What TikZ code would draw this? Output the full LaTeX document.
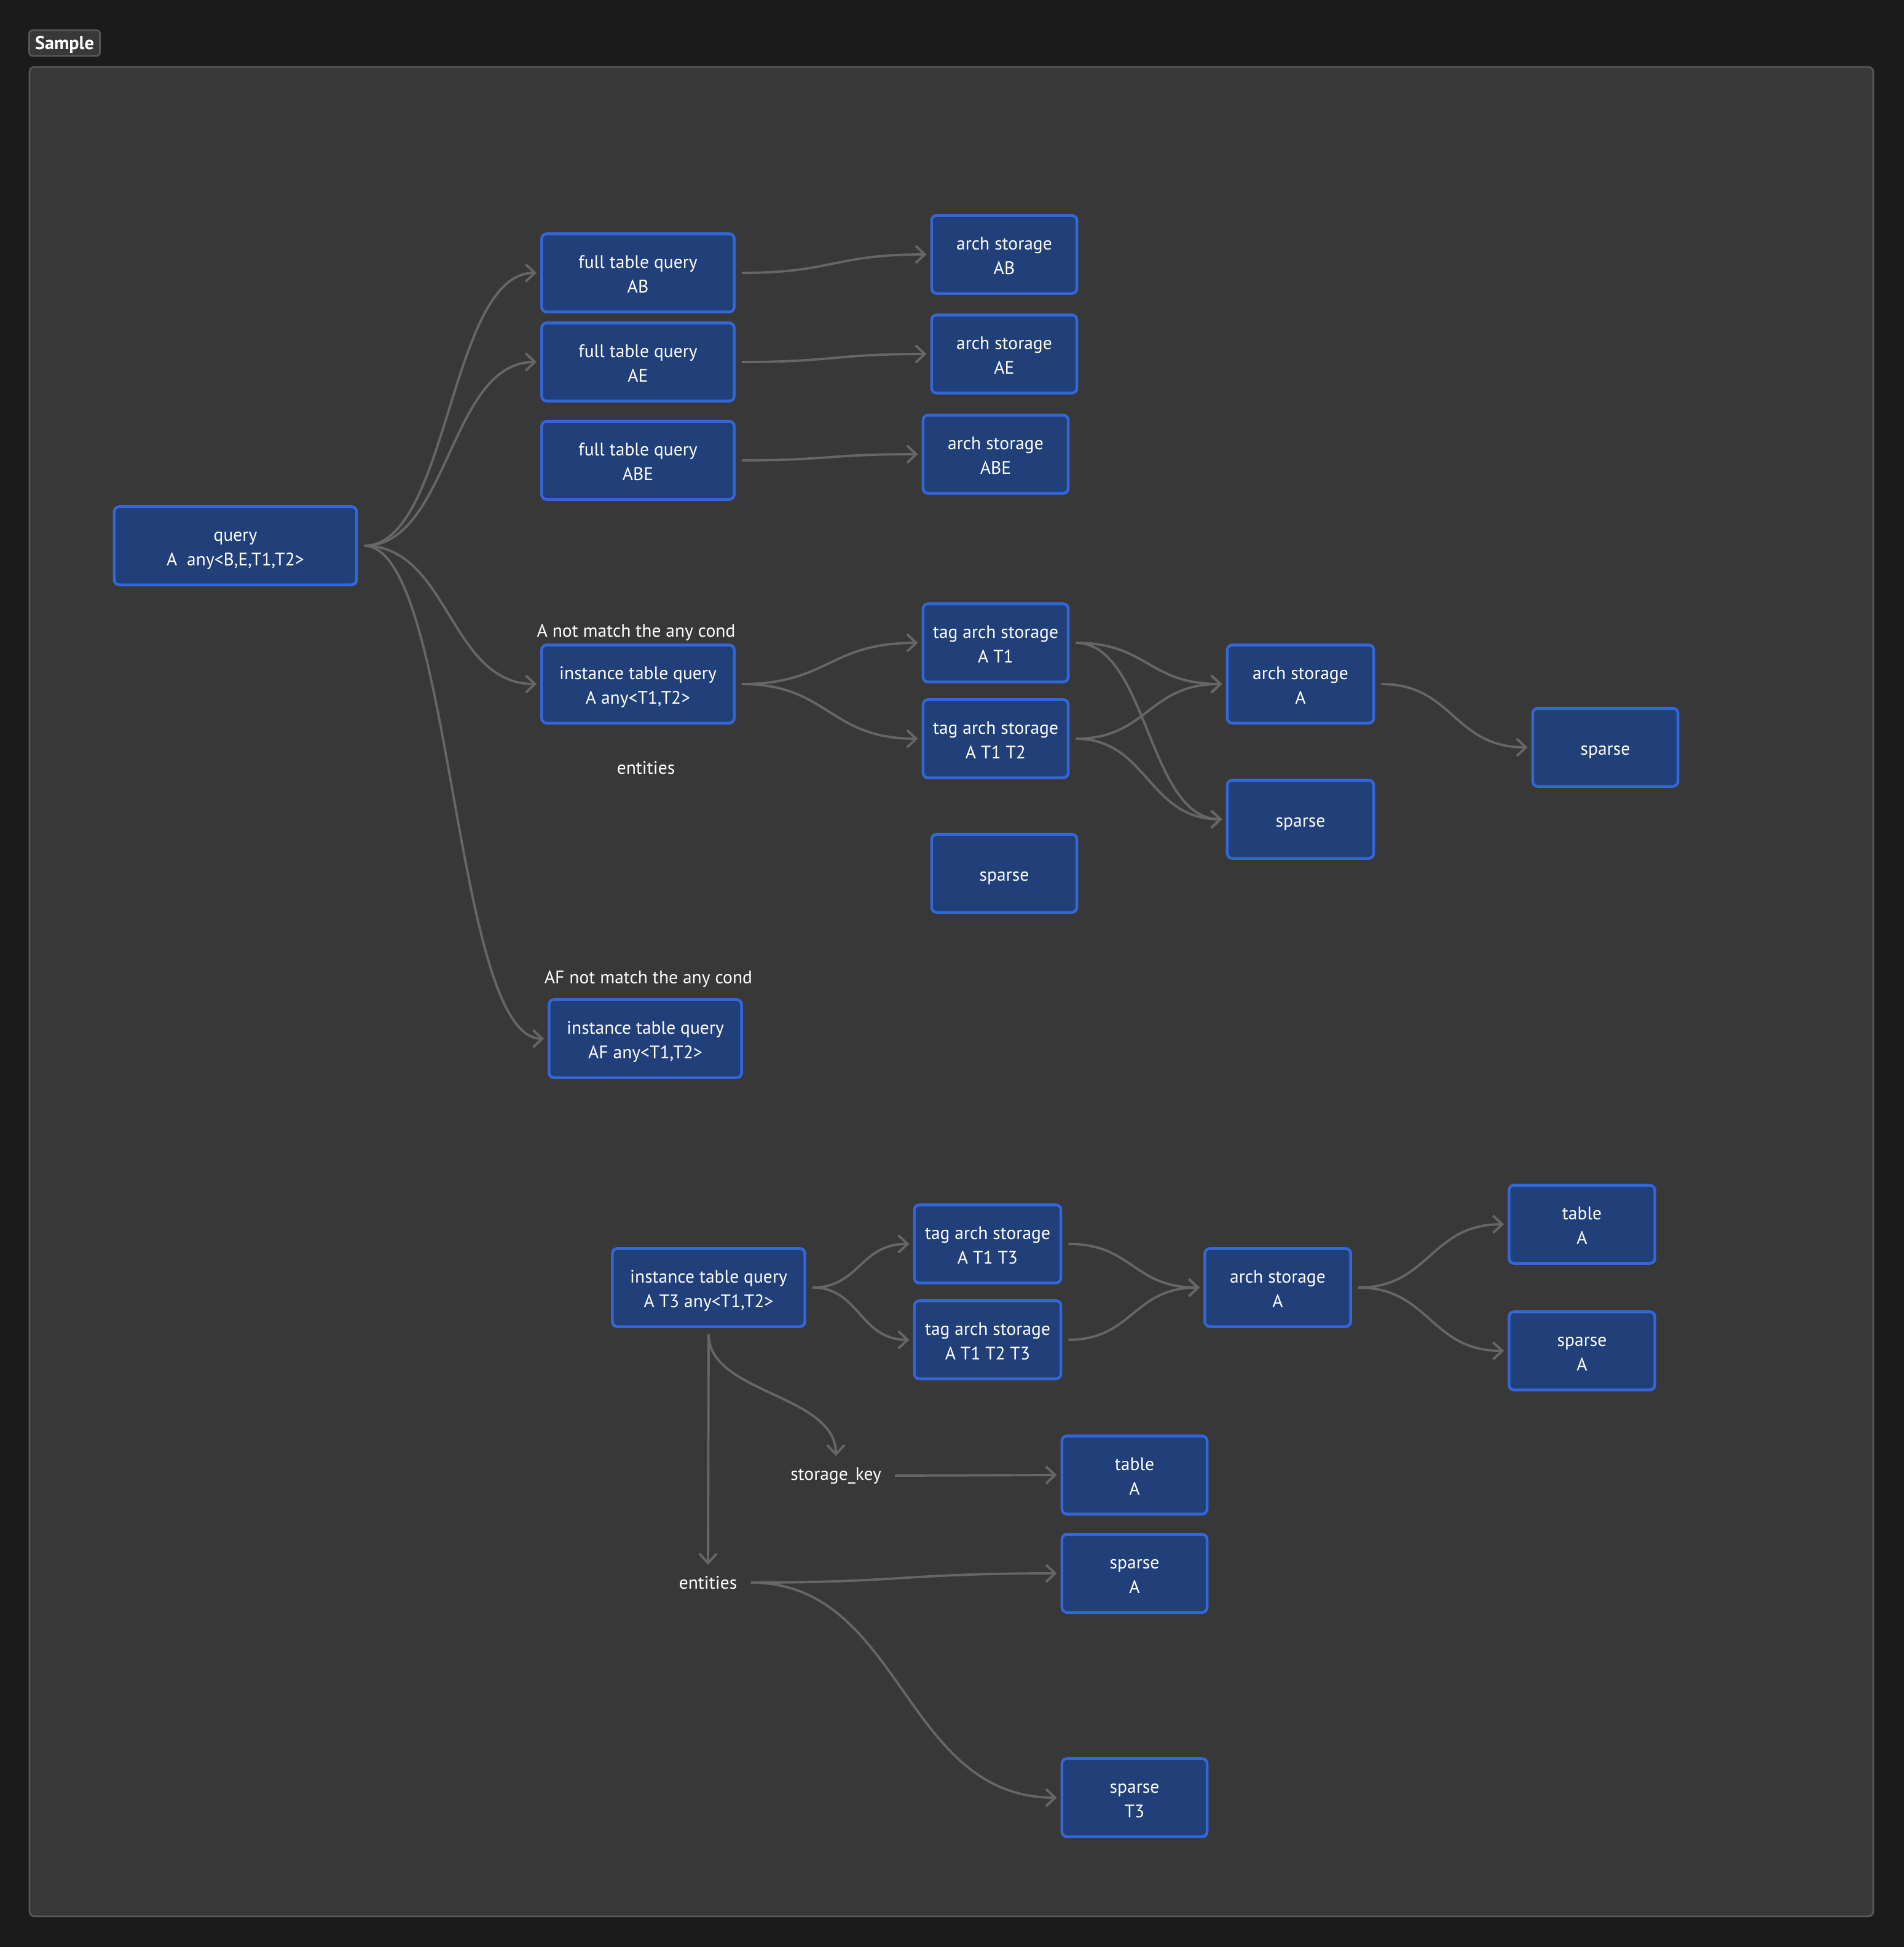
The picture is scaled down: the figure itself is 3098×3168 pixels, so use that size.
\documentclass[tikz,border=0pt]{standalone}
\usepackage{fontspec}
\setmainfont{PT Sans}
\usetikzlibrary{arrows.meta,calc}

\definecolor{outerbg}{HTML}{1B1B1B}
\definecolor{panelbg}{HTML}{383838}
\definecolor{panelline}{HTML}{575757}
\definecolor{cardfill}{HTML}{213F78}
\definecolor{cardline}{HTML}{3366D6}
\definecolor{edgegray}{HTML}{666666}

\tikzset{
  card/.style={draw=cardline, fill=cardfill, line width=1.3pt, rounded corners=0.08cm,
    text=white, align=center, minimum width=#1, minimum height=1.27cm, inner sep=0pt,
    font=\fontsize{8.4}{11.4}\selectfont, text height=20pt, text depth=1.6pt},
  card/.default=3.13cm,
  onecard/.style={card=#1, text height=9pt, text depth=2pt},
  onecard/.default=2.36cm,
  note/.style={text=white, align=center, font=\fontsize{8.4}{11.4}\selectfont},
  link/.style={draw=edgegray, line width=1.1pt, -{Straight Barb[length=1.5mm,width=2.8mm]},
    shorten <=0.1cm, shorten >=0.06cm},
  hcurve/.style={to path={let \p1=(\tikztostart), \p2=(\tikztotarget) in
    .. controls (\x1/2+\x2/2,\y1) and (\x1/2+\x2/2,\y2) .. (\tikztotarget) \tikztonodes}},
  vcurve/.style={to path={let \p1=(\tikztostart), \p2=(\tikztotarget) in
    .. controls (\x1,\y1/2+\y2/2) and (\x2,\y1/2+\y2/2) .. (\tikztotarget) \tikztonodes}}
}

\begin{document}
\begin{tikzpicture}[x=0.01cm, y=-0.01cm]

  % canvas
  \useasboundingbox (0,0) rectangle (3098,3168);
  \fill[outerbg] (0,0) rectangle (3098,3168);
  \draw[panelline, fill=panelbg, line width=0.8pt, rounded corners=0.08cm] (48,109) rectangle (3048,3118);
  \node[draw=panelline, fill=panelbg, line width=0.8pt, rounded corners=0.06cm, text=white,
    minimum width=1.15cm, minimum height=0.42cm, inner sep=0pt, text height=7.4pt, text depth=1.6pt,
    font=\bfseries\fontsize{8.6}{10}\selectfont] (tag) at (105,70) {Sample};

  % upper group
  \node[card=3.94cm] (q) at (383,888) {query\\A\ \ any<B,E,T1,T2>};
  \node[card] (fab) at (1038,444) {full table query\\AB};
  \node[card] (fae) at (1038,589) {full table query\\AE};
  \node[card] (fabe) at (1038,749) {full table query\\ABE};
  \node[card=2.36cm] (sab) at (1634,414) {arch storage\\AB};
  \node[card=2.36cm] (sae) at (1634,576) {arch storage\\AE};
  \node[card=2.36cm] (sabe) at (1620,739) {arch storage\\ABE};

  \node[note] (nota) at (1035,1029) {A not match the any cond};
  \node[card] (ia) at (1038,1113) {instance table query\\A any<T1,T2>};
  \node[note] (enta) at (1051,1249) {entities};
  \node[card=2.36cm] (ta1) at (1620,1046) {tag arch storage\\A T1};
  \node[card=2.36cm] (ta12) at (1620,1202) {tag arch storage\\A T1 T2};
  \node[card=2.38cm] (sa) at (2116,1113) {arch storage\\A};
  \node[onecard=2.38cm] (spm) at (2116,1333) {sparse};
  \node[onecard] (spr) at (2612,1216) {sparse};
  \node[onecard] (spl) at (1634,1421) {sparse};

  \node[note] (notaf) at (1055,1593) {AF not match the any cond};
  \node[card] (iaf) at (1050,1690) {instance table query\\AF any<T1,T2>};

  % lower group
  \node[card] (it3) at (1153,2095) {instance table query\\A T3 any<T1,T2>};
  \node[card=2.38cm] (t13) at (1607,2024) {tag arch storage\\A T1 T3};
  \node[card=2.38cm] (t123) at (1607,2180) {tag arch storage\\A T1 T2 T3};
  \node[card=2.37cm] (sa2) at (2079,2095) {arch storage\\A};
  \node[card=2.37cm] (tbr) at (2574,1992) {table\\A};
  \node[card=2.37cm] (spar) at (2574,2198) {sparse\\A};
  \node[note] (skey) at (1360,2401) {storage\_key};
  \node[card=2.36cm] (tbm) at (1846,2400) {table\\A};
  \node[note] (ent2) at (1152,2575) {entities};
  \node[card=2.36cm] (spam) at (1846,2560) {sparse\\A};
  \node[card=2.36cm] (spt3) at (1846,2925) {sparse\\T3};

  % connectors, upper group
  \draw[link] (q.east) to[hcurve] (fab.west);
  \draw[link] (q.east) to[hcurve] (fae.west);
  \draw[link] (q.east) to[hcurve] (ia.west);
  \draw[link] (q.east) to[hcurve] (iaf.west);
  \draw[link] (fab.east) to[hcurve] (sab.west);
  \draw[link] (fae.east) to[hcurve] (sae.west);
  \draw[link] (fabe.east) to[hcurve] (sabe.west);
  \draw[link] (ia.east) to[hcurve] (ta1.west);
  \draw[link] (ia.east) to[hcurve] (ta12.west);
  \draw[link] (ta1.east) to[hcurve] (sa.west);
  \draw[link] (ta1.east) to[hcurve] (spm.west);
  \draw[link] (ta12.east) to[hcurve] (sa.west);
  \draw[link] (ta12.east) to[hcurve] (spm.west);
  \draw[link] (sa.east) to[hcurve] (spr.west);

  % connectors, lower group
  \draw[link] (it3.east) to[hcurve] (t13.west);
  \draw[link] (it3.east) to[hcurve] (t123.west);
  \draw[link] (t13.east) to[hcurve] (sa2.west);
  \draw[link] (t123.east) to[hcurve] (sa2.west);
  \draw[link] (sa2.east) to[hcurve] (tbr.west);
  \draw[link] (sa2.east) to[hcurve] (spar.west);
  \draw[link] (it3.south) to[vcurve] (skey.north);
  \draw[link] (it3.south) -- (ent2.north);
  \draw[link] (skey.east) -- (tbm.west);
  \draw[link] (ent2.east) to[hcurve] (spam.west);
  \draw[link] (ent2.east) to[hcurve] (spt3.west);

\end{tikzpicture}
\end{document}
